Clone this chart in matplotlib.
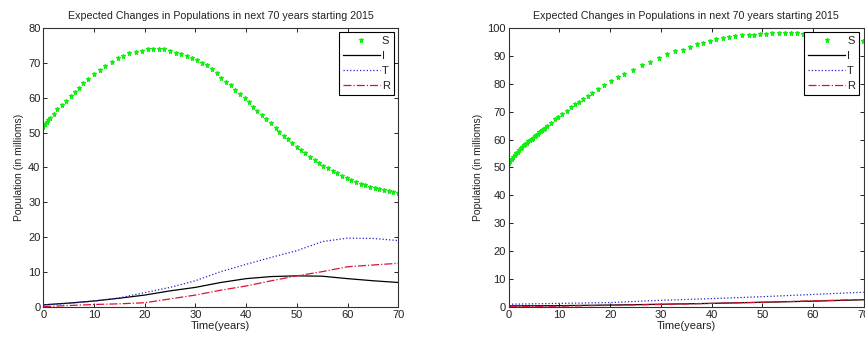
import matplotlib

matplotlib.use("Agg")

import matplotlib.pyplot as plt

# ---- left panel data -------------------------------------------------------
LEFT_S_T = [0, 0.33, 0.66, 0.99, 1.3, 2.1, 2.8, 3.6, 4.5, 5.4, 6.2, 7.0, 7.8, 8.9,
            10.0, 11.2, 12.2, 13.5, 14.7, 15.8, 17.0, 18.2, 19.4, 20.7, 21.7, 22.8,
            23.8, 25.0, 26.1, 27.2, 28.3, 29.3, 30.3, 31.3, 32.2, 33.2, 34.2, 35.0,
            36.0, 37.0, 37.9, 38.8, 39.7, 40.6, 41.4, 42.2, 43.1, 43.9, 44.9, 45.8,
            46.5, 47.4, 48.2, 49.0, 50.0, 50.8, 51.7, 52.6, 53.5, 54.4, 55.2, 56.2,
            57.1, 58.0, 58.9, 59.8, 60.7, 61.6, 62.6, 63.5, 64.4, 65.4, 66.3, 67.2,
            68.1, 69.0, 70.0]
LEFT_S = [51.7, 52.4, 53.0, 53.6, 54.1, 55.3, 56.6, 57.9, 59.1, 60.5, 61.6, 62.8, 64.1, 65.4,
          66.8, 67.9, 69.1, 70.2, 71.2, 71.9, 72.7, 73.1, 73.4, 73.8, 74.0, 74.0,
          73.8, 73.4, 72.8, 72.5, 71.9, 71.4, 70.8, 70.0, 69.3, 68.1, 66.9, 65.7,
          64.5, 63.5, 62.2, 61.0, 59.8, 58.7, 57.4, 56.3, 55.0, 53.8, 52.6, 51.4,
          50.2, 49.1, 48.1, 46.9, 46.0, 45.0, 44.1, 43.1, 42.1, 41.2, 40.5, 39.8,
          39.0, 38.3, 37.7, 37.1, 36.5, 35.9, 35.4, 34.9, 34.5, 34.1, 33.8, 33.5,
          33.2, 33.0, 32.8]

LEFT_T = [0, 5, 10, 15, 20, 25, 30, 35, 40, 45, 50, 55, 60, 65, 70]
LEFT_I = [0.7, 1.2, 1.8, 2.6, 3.5, 4.7, 5.7, 7.1, 8.2, 8.8, 9.0, 8.9, 8.2, 7.6, 7.1]
LEFT_TT = [0.7, 1.1, 1.8, 2.7, 4.2, 5.7, 7.6, 10.2, 12.3, 14.3, 16.2, 18.8, 19.8, 19.7, 19.1]
LEFT_R = [0.2, 0.5, 0.8, 1.0, 1.3, 2.4, 3.5, 4.9, 6.1, 7.6, 9.0, 10.2, 11.6, 12.1, 12.6]

# ---- right panel data ------------------------------------------------------
RIGHT_S_T = [0, 0.3, 0.6, 0.9, 1.2, 1.5, 1.8, 2.1, 2.4, 2.7, 3.0, 3.3, 3.6, 3.9, 4.2,
             4.5, 4.8, 5.1, 5.4, 5.7, 6.0, 6.3, 6.6, 6.9, 7.2, 7.5,
             8.3, 9.1, 9.8, 10.6, 11.4, 12.2, 13.1, 13.9, 14.7, 15.6, 16.5, 17.6,
             18.7, 20.2, 21.5, 22.8, 24.5, 26.2, 27.9, 29.6, 31.2, 32.8, 34.3, 35.8,
             37.1, 38.4, 39.7, 40.9, 42.2, 43.5, 44.6, 46.0, 47.3, 48.4, 49.6, 50.7,
             51.9, 53.2, 54.5, 55.7, 56.8, 58.1, 59.4, 60.7, 62.0, 63.3, 64.6, 65.9,
             67.2, 68.5, 69.8]
RIGHT_S = [51.5, 52.2, 53.0, 53.7, 54.4, 55.1, 55.7, 56.4, 57.0, 57.5, 57.9, 58.4, 58.8, 59.3, 59.8,
           60.3, 60.7, 61.2, 61.6, 62.1, 62.6, 63.1, 63.5, 63.9, 64.3, 64.8,
           66.0, 67.2, 68.2, 69.1, 70.3, 71.5, 72.6, 73.5, 74.6, 75.7, 76.8, 78.1,
           79.4, 80.9, 82.2, 83.6, 84.8, 86.8, 87.8, 89.3, 90.6, 91.7, 92.2, 93.2,
           94.0, 94.6, 95.2, 95.8, 96.2, 96.8, 97.0, 97.3, 97.4, 97.5, 97.6, 97.9,
           98.0, 98.0, 98.0, 98.0, 98.0, 97.9, 97.8, 97.6, 97.4, 97.1, 96.8, 96.4,
           96.0, 95.6, 95.1]

RIGHT_T = [0, 10, 20, 30, 40, 50, 60, 70]
RIGHT_I = [0.5, 0.6, 0.8, 1.1, 1.4, 1.8, 2.2, 2.7]
RIGHT_TT = [1.1, 1.4, 1.7, 2.5, 3.1, 3.8, 4.6, 5.4]
RIGHT_R = [0.2, 0.4, 0.7, 1.0, 1.4, 1.8, 2.3, 2.8]

TITLE = "Expected Changes in Populations in next 70 years starting 2015"
X_TICKS = [0, 10, 20, 30, 40, 50, 60, 70]

plt.rcParams.update({
    "font.family": "Liberation Sans",
    "font.size": 7.5,
    "text.color": "#222222",
    "axes.labelcolor": "#222222",
    "xtick.color": "#222222",
    "ytick.color": "#222222",
})


def draw_panel(ax, s_t, s, t, i, tt, r, ymax, yticks):
    ax.plot(s_t, s, linestyle="none", marker="*", markersize=3.6,
            color="#11ee11", markeredgewidth=0.8, label="S")
    ax.plot(t, i, "-", color="black", linewidth=0.9, label="I")
    ax.plot(t, tt, ":", color="#2222cc", linewidth=0.9, label="T")
    ax.plot(t, r, "-.", color="#dd1133", linewidth=0.9, label="R")
    ax.set_xlim(0, 70)
    ax.set_ylim(0, ymax)
    ax.set_xticks(X_TICKS)
    ax.set_yticks(yticks)
    ax.tick_params(direction="in", top=True, right=True, length=3, width=0.7,
                   labelsize=8, pad=2)
    for sp in ax.spines.values():
        sp.set_linewidth(0.8)
        sp.set_color("#333333")
    ax.set_title(TITLE, fontsize=7.7, pad=6)
    ax.set_xlabel("Time(years)", fontsize=8, labelpad=1)
    ax.set_ylabel("Population (in millioms)", fontsize=7.5, labelpad=3)
    leg = ax.legend(loc="upper right", bbox_to_anchor=(0.987, 0.983),
                    fancybox=False, edgecolor="black", framealpha=1,
                    fontsize=8, handlelength=3.3, handletextpad=0.2,
                    borderpad=0.35, labelspacing=0.45, borderaxespad=0)
    leg.get_frame().set_linewidth(0.8)


fig = plt.figure(figsize=(8.65, 3.39), dpi=100)
ax1 = fig.add_axes([0.0500, 0.0935, 0.4104, 0.8248])
ax2 = fig.add_axes([0.5881, 0.0935, 0.4104, 0.8248])

draw_panel(ax1, LEFT_S_T, LEFT_S, LEFT_T, LEFT_I, LEFT_TT, LEFT_R,
           80, [0, 10, 20, 30, 40, 50, 60, 70, 80])
draw_panel(ax2, RIGHT_S_T, RIGHT_S, RIGHT_T, RIGHT_I, RIGHT_TT, RIGHT_R,
           100, [0, 10, 20, 30, 40, 50, 60, 70, 80, 90, 100])

fig.savefig("out.png", dpi=100)
